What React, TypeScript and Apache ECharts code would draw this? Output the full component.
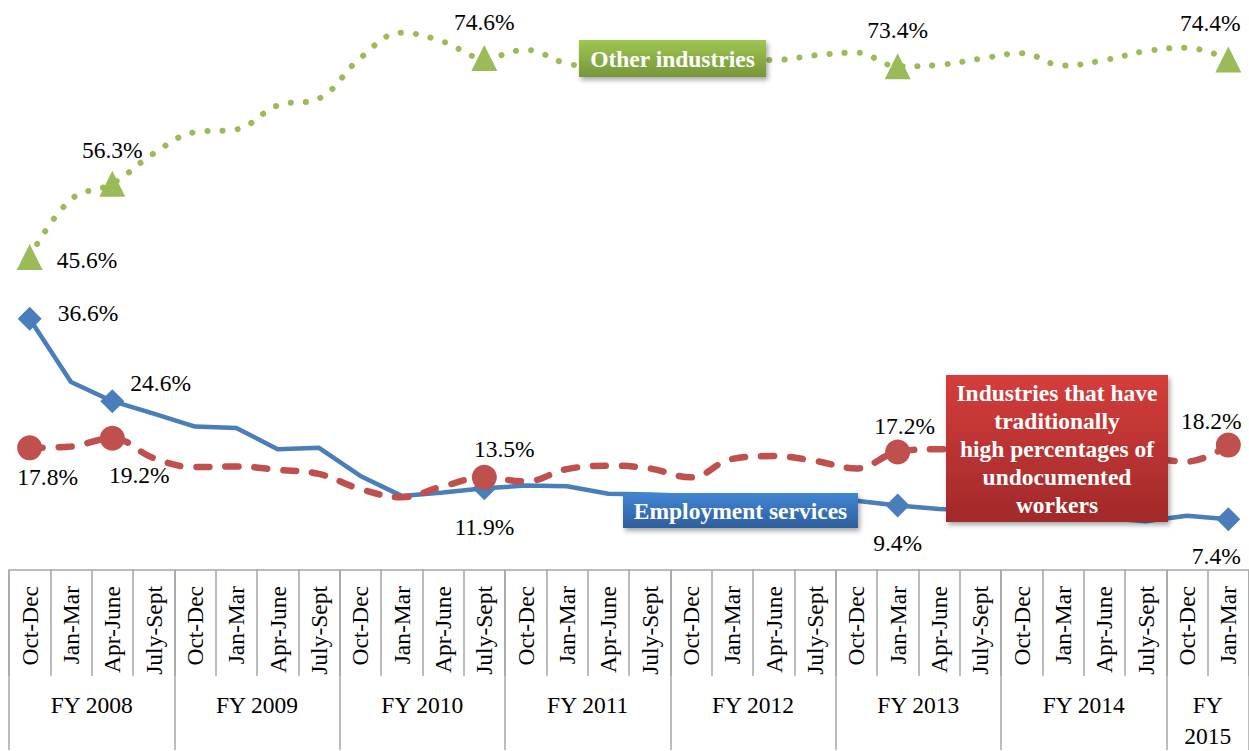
import React, { useEffect, useRef } from "react";
import * as echarts from "echarts";

// ---- Data ----
const quarters = [
  "Oct-Dec", "Jan-Mar", "Apr-June", "July-Sept",
  "Oct-Dec", "Jan-Mar", "Apr-June", "July-Sept",
  "Oct-Dec", "Jan-Mar", "Apr-June", "July-Sept",
  "Oct-Dec", "Jan-Mar", "Apr-June", "July-Sept",
  "Oct-Dec", "Jan-Mar", "Apr-June", "July-Sept",
  "Oct-Dec", "Jan-Mar", "Apr-June", "July-Sept",
  "Oct-Dec", "Jan-Mar", "Apr-June", "July-Sept",
  "Oct-Dec", "Jan-Mar",
];
const fiscalYears = ["FY 2008", "FY 2009", "FY 2010", "FY 2011", "FY 2012", "FY 2013", "FY 2014", "FY\n2015"];
// group boundaries (in category units) and group centers
const fyBoundaries = [0, 4, 8, 12, 16, 20, 24, 28, 30];
const fyCenters = [2, 6, 10, 14, 18, 22, 26, 29];

const employmentServices = [
  36.6, 27.4, 24.6, 22.8, 20.9, 20.7, 17.6, 17.8, 13.7, 10.8,
  11.3, 11.9, 12.3, 12.2, 11.1, 11.0, 10.8, 10.6, 10.4, 10.2,
  10.1, 9.4, 8.9, 8.7, 8.4, 8.1, 7.6, 7.1, 7.9, 7.4,
];
const undocumentedIndustries = [
  17.8, 18.0, 19.2, 16.3, 15.0, 15.1, 14.6, 14.0, 11.8, 10.6,
  12.2, 13.5, 12.9, 14.7, 15.2, 14.8, 13.5, 16.2, 16.6, 15.9,
  14.8, 17.2, 17.6, 17.6, 17.4, 17.0, 16.8, 16.4, 15.8, 18.2,
];
const otherIndustries = [
  45.6, 54.0, 56.3, 60.7, 63.8, 64.2, 67.7, 68.7, 74.6, 78.3,
  77.0, 74.6, 75.8, 73.8, 73.2, 73.6, 74.0, 74.3, 74.3, 75.0,
  75.4, 73.4, 73.6, 74.5, 75.3, 73.5, 74.3, 75.6, 76.1, 74.4,
];
const markedIndices = [0, 2, 11, 21, 29];

// ---- Styling ----
const FONT = "Liberation Serif";
const FS = 23.5;
const BLUE = "#4a7ebb";
const RED = "#c0504d";
const GREEN = "#9bbb59";
const AXIS_GRAY = "#a6a6a6";

type LabelCfg = { position: string; distance: number; offset?: number[] };

const blueLabels: Record<number, LabelCfg> = {
  0: { position: "right", distance: 16, offset: [0, -6] },
  2: { position: "right", distance: 6, offset: [0, -18] },
  11: { position: "bottom", distance: 15 },
  21: { position: "bottom", distance: 14 },
  29: { position: "bottom", distance: 13, offset: [-12, 0] },
};
const redLabels: Record<number, LabelCfg> = {
  0: { position: "bottom", distance: 5, offset: [18, 0] },
  2: { position: "bottom", distance: 12, offset: [27, 0] },
  11: { position: "top", distance: 4, offset: [20, 0] },
  21: { position: "top", distance: 1, offset: [7, 0] },
  29: { position: "top", distance: 0, offset: [-17, 0] },
};
const greenLabels: Record<number, LabelCfg> = {
  0: { position: "right", distance: 14, offset: [0, 3] },
  2: { position: "top", distance: 9 },
  11: { position: "top", distance: 11 },
  21: { position: "top", distance: 11 },
  29: { position: "top", distance: 11, offset: [-18, 0] },
};

const labelText = {
  fontFamily: FONT,
  fontSize: FS,
  fontWeight: "normal",
  color: "#000",
};

function buildData(values: number[], symbol: string, size: number, labels: Record<number, LabelCfg>) {
  return values.map((v, i) => {
    if (markedIndices.indexOf(i) < 0) return { value: v };
    const l = labels[i];
    return {
      value: v,
      symbol,
      symbolSize: size,
      label: {
        show: true,
        position: l.position,
        distance: l.distance,
        offset: l.offset || [0, 0],
        formatter: (p: any) => p.value.toFixed(1) + "%",
        ...labelText,
      },
    };
  });
}

function grad(top: string, bottom: string) {
  return new echarts.graphic.LinearGradient(0, 0, 0, 1, [
    { offset: 0, color: top },
    { offset: 1, color: bottom },
  ]);
}

function box(x: number, y: number, w: number, h: number, text: string, top: string, bottom: string, lineHeight = 28) {
  return {
    type: "group",
    z: 100,
    children: [
      {
        type: "rect",
        z: 100,
        shape: { x, y, width: w, height: h },
        style: {
          fill: grad(top, bottom),
          shadowBlur: 5,
          shadowOffsetX: 2,
          shadowOffsetY: 3,
          shadowColor: "rgba(0,0,0,0.35)",
        },
      },
      {
        type: "text",
        z: 101,
        x: x + w / 2,
        y: y + h / 2,
        style: {
          text,
          fill: "#ffffff",
          font: "bold " + FS + "px " + FONT,
          fontFamily: FONT,
          fontSize: FS,
          fontWeight: "bold",
          lineHeight,
          align: "center",
          verticalAlign: "middle",
          textAlign: "center",
          textVerticalAlign: "middle",
        },
      },
    ],
  };
}

export default function App() {
  const ref = useRef<HTMLDivElement>(null);

  useEffect(() => {
    if (!ref.current) return;
    const chart = echarts.init(ref.current, undefined, { renderer: "svg" });

    const option: any = {
      animation: false,
      backgroundColor: "#ffffff",
      textStyle: { fontFamily: FONT },
      grid: { left: 9, right: -2, top: 21, bottom: 176, containLabel: false },
      xAxis: [
        {
          type: "category",
          data: quarters,
          boundaryGap: true,
          position: "bottom",
          axisLine: { show: true, lineStyle: { color: AXIS_GRAY, width: 1.5 } },
          axisTick: { show: true, interval: 0, length: 106, lineStyle: { color: AXIS_GRAY, width: 1.5 } },
          axisLabel: {
            interval: 0,
            rotate: 90,
            margin: 16,
            fontFamily: FONT,
            fontSize: FS,
            color: "#000",
          },
          splitLine: { show: false },
        },
        {
          type: "value",
          min: 0,
          max: 30,
          position: "bottom",
          axisLine: { show: false },
          splitLine: { show: false },
          axisTick: {
            show: true,
            customValues: fyBoundaries,
            length: 180,
            lineStyle: { color: AXIS_GRAY, width: 1.5 },
          },
          axisLabel: {
            show: true,
            customValues: fyCenters,
            margin: 119,
            fontFamily: FONT,
            fontSize: FS,
            lineHeight: 31,
            color: "#000",
            formatter: (v: number) => {
              const i = fyCenters.indexOf(Math.round(v));
              return i >= 0 ? fiscalYears[i] : "";
            },
          },
        },
      ],
      yAxis: { type: "value", min: 0, max: 80, show: false, splitLine: { show: false } },
      series: [
        {
          name: "Other industries",
          type: "line",
          xAxisIndex: 0,
          data: buildData(otherIndustries, "triangle", 26, greenLabels),
          smooth: 0.4,
          symbol: "circle",
          symbolSize: 0,
          showSymbol: true,
          showAllSymbol: true,
          silent: true,
          label: { ...labelText },
          itemStyle: { color: GREEN },
          lineStyle: { color: GREEN, width: 6, type: [0.1, 15], cap: "round" },
          z: 3,
        },
        {
          name: "Employment services",
          type: "line",
          xAxisIndex: 0,
          data: buildData(employmentServices, "diamond", 24, blueLabels),
          smooth: false,
          symbol: "circle",
          symbolSize: 0,
          showSymbol: true,
          showAllSymbol: true,
          silent: true,
          label: { ...labelText },
          itemStyle: { color: BLUE },
          lineStyle: { color: BLUE, width: 4.5 },
          z: 4,
        },
        {
          name: "Industries that have traditionally high percentages of undocumented workers",
          type: "line",
          xAxisIndex: 0,
          data: buildData(undocumentedIndustries, "circle", 25, redLabels),
          smooth: 0.4,
          symbol: "circle",
          symbolSize: 0,
          showSymbol: true,
          showAllSymbol: true,
          silent: true,
          label: { ...labelText },
          itemStyle: { color: RED },
          lineStyle: { color: RED, width: 6.5, type: [13, 16], cap: "round" },
          z: 5,
        },
      ],
      graphic: {
        elements: [
          box(579, 40, 187, 37, "Other industries", "#9fc652", "#76963a"),
          box(623, 493, 235, 35, "Employment services", "#4285d3", "#2e5f9e"),
          box(946, 375, 222, 147, "Industries that have\ntraditionally\nhigh percentages of\nundocumented\nworkers", "#d43d3b", "#a2292a", 28),
        ],
      },
    };

    chart.setOption(option);
    return () => chart.dispose();
  }, []);

  return (
    <div
      ref={ref}
      style={{ position: "absolute", left: 0, top: 0, width: 1249, height: 751 }}
    />
  );
}
